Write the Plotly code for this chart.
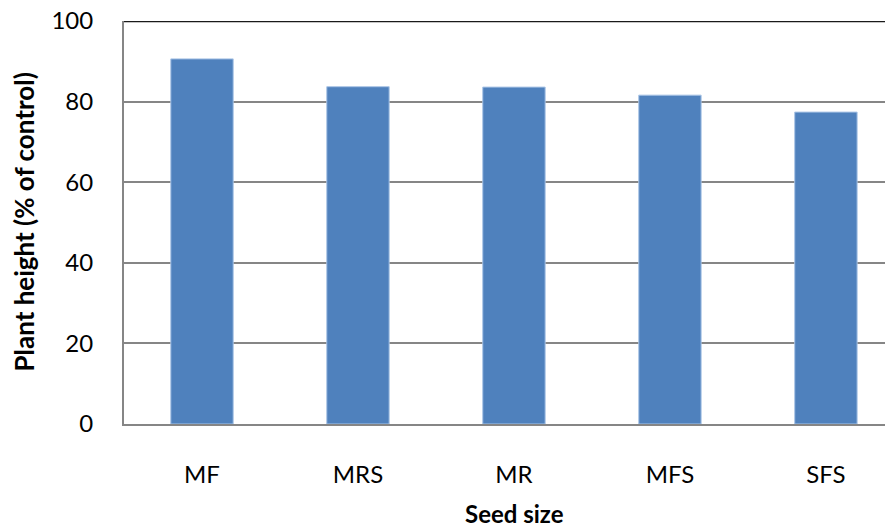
import plotly.graph_objects as go

# Data
seed_size = ['MF', 'MRS', 'MR', 'MFS', 'SFS']
plant_height = [90.6, 83.7, 83.6, 81.6, 77.4]

fig = go.Figure()

fig.add_trace(go.Bar(
    x=seed_size, y=plant_height,
    width=0.4,
    marker=dict(color='#4F81BD', line=dict(color='#A9C4E6', width=1)),
))

# dark top line at 100
fig.add_shape(type='line', xref='paper', x0=0, x1=1, yref='y', y0=100, y1=100,
              line=dict(color='#1a1a1a', width=2.5))

font = dict(family='Lato, Carlito, sans-serif', size=24, color='black')

# axis titles as annotations so they sit where the original has them
fig.add_annotation(text='<b>Seed size</b>', xref='paper', yref='paper',
                   x=(514 - 124) / 769, y=-89 / 403, showarrow=False,
                   xanchor='center', yanchor='middle', font=font)
fig.add_annotation(text='<b>Plant height (% of control)</b>', xref='paper', yref='paper',
                   x=-101 / 769, y=0.5, showarrow=False, textangle=-90,
                   xanchor='center', yanchor='middle', font=dict(font, size=26))

# page body has an 8px margin, so the figure is 8px smaller than the window
fig.update_layout(
    width=885, height=520,
    margin=dict(l=116, r=0, t=13, b=104),
    plot_bgcolor='white', paper_bgcolor='white',
    showlegend=False,
    font=font,
    xaxis=dict(
        range=[-0.5, 4.43], automargin=False,
        showline=True, linecolor='#868686', linewidth=2,
        showgrid=False, ticks='', ticklabelstandoff=28,
    ),
    yaxis=dict(
        range=[0, 100], tickvals=[0, 20, 40, 60, 80, 100], automargin=False,
        showline=True, linecolor='#868686', linewidth=2,
        showgrid=True, gridcolor='#868686', gridwidth=1.5,
        zeroline=False, ticks='', ticklabelstandoff=24,
        ticklabeloverflow='allow',
    ),
)

fig.write_html('out.html')
